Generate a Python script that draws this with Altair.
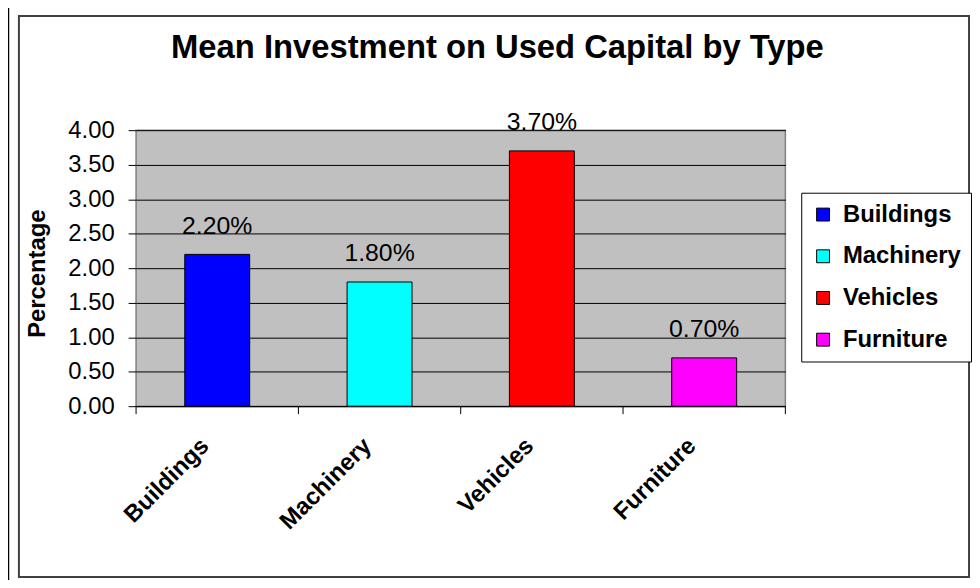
import altair as alt
import pandas as pd

categories = ["Buildings", "Machinery", "Vehicles", "Furniture"]
values = [2.20, 1.80, 3.70, 0.70]
colors = ["#0000FF", "#00FFFF", "#FF0000", "#FF00FF"]
y_ticks = [0.0, 0.5, 1.0, 1.5, 2.0, 2.5, 3.0, 3.5, 4.0]
boundaries = [0, 1, 2, 3, 4]
title_text = ["Mean Investment on Used Capital by Type"]

FONT = "Liberation Sans"
W, H = 654, 278

df = pd.DataFrame({"cat": categories, "value": values})
one = pd.DataFrame({"k": [0]})
bdf = pd.DataFrame({"b": boundaries})
tdf = pd.DataFrame({"t": title_text})

xscale = alt.Scale(domain=categories, paddingInner=0.6, paddingOuter=0.3)
yscale = alt.Scale(domain=[0, 4], nice=False)

yaxis = alt.Axis(values=y_ticks, format=".2f", labelFontSize=24, labelFont=FONT,
                 labelColor="black", labelPadding=14, tickSize=8, tickColor="black",
                 labelOverlap=False, labelFlush=False,
                 grid=True, gridColor="black", gridWidth=1, domain=False,
                 titleFontSize=24, titleFont=FONT, titleFontWeight="bold",
                 titleColor="black", titleX=-99, titleY=144, titleAngle=270,
                 titleAlign="center", titleBaseline="middle")

frame_inner = alt.Chart(one).mark_rect(fillOpacity=0, stroke="#404040", strokeWidth=2).encode(
    x=alt.value(-118), x2=alt.value(839), y=alt.value(-115), y2=alt.value(450)
)
frame_top = alt.Chart(one).mark_rule(stroke="black", strokeWidth=2.5).encode(
    x=alt.value(-129), x2=alt.value(845), y=alt.value(-126)
)
frame_left = alt.Chart(one).mark_rule(stroke="black", strokeWidth=2.5).encode(
    x=alt.value(-129), y=alt.value(-127), y2=alt.value(460)
)

title = alt.Chart(tdf).mark_text(fontSize=33, font=FONT, fontWeight="bold", color="black",
                                 baseline="alphabetic", align="center").encode(
    x=alt.value(364), y=alt.value(-73), text="t:N"
)

bars = alt.Chart(df).mark_bar(stroke="black", strokeWidth=1).encode(
    x=alt.X("cat:N", sort=categories, scale=xscale, title=None,
            axis=alt.Axis(labelAngle=-45, labelFontSize=24, labelFontWeight="bold",
                          labelFont=FONT, labelColor="black", labelAlign="right",
                          labelBaseline="middle", labelPadding=36, labelOffset=-12,
                          ticks=False, domainColor="black", domainWidth=1)),
    y=alt.Y("value:Q", scale=yscale, title="Percentage", axis=yaxis),
    color=alt.Color("cat:N", scale=alt.Scale(domain=categories, range=colors),
                    legend=alt.Legend(title=None, orient="none", legendX=670, legendY=63,
                                      labelFontSize=24, labelFontWeight="bold", labelFont=FONT,
                                      labelColor="black", symbolType="square", symbolSize=169,
                                      symbolStrokeColor="black", symbolStrokeWidth=1,
                                      padding=10, strokeColor="black", fillColor="white",
                                      rowPadding=18, labelOffset=8, cornerRadius=0)),
)

labels = alt.Chart(df).transform_calculate(
    label="format(datum.value, '.2f') + '%'"
).mark_text(fontSize=25, font=FONT, color="black", baseline="middle", dy=-29).encode(
    x=alt.X("cat:N", sort=categories, scale=xscale, axis=None),
    y=alt.Y("value:Q", scale=yscale, title="Percentage", axis=yaxis),
    text="label:N",
)

xticks = alt.Chart(bdf).mark_rule(stroke="black", strokeWidth=1).encode(
    x=alt.X("b:Q", scale=alt.Scale(domain=[0, 4], nice=False), axis=None),
    y=alt.value(H), y2=alt.value(H + 8),
)

chart = alt.layer(frame_inner, frame_top, frame_left, title, bars, labels, xticks).resolve_scale(
    x="independent"
).properties(
    width=W, height=H,
    autosize=alt.AutoSizeParams(type="none"),
    padding={"left": 129, "top": 121, "right": 188, "bottom": 173},
    background="white",
).configure_view(
    fill="#C0C0C0", stroke="#808080", strokeWidth=1.5
)

chart.save("out.html", embed_options={"renderer": "svg", "actions": False})
